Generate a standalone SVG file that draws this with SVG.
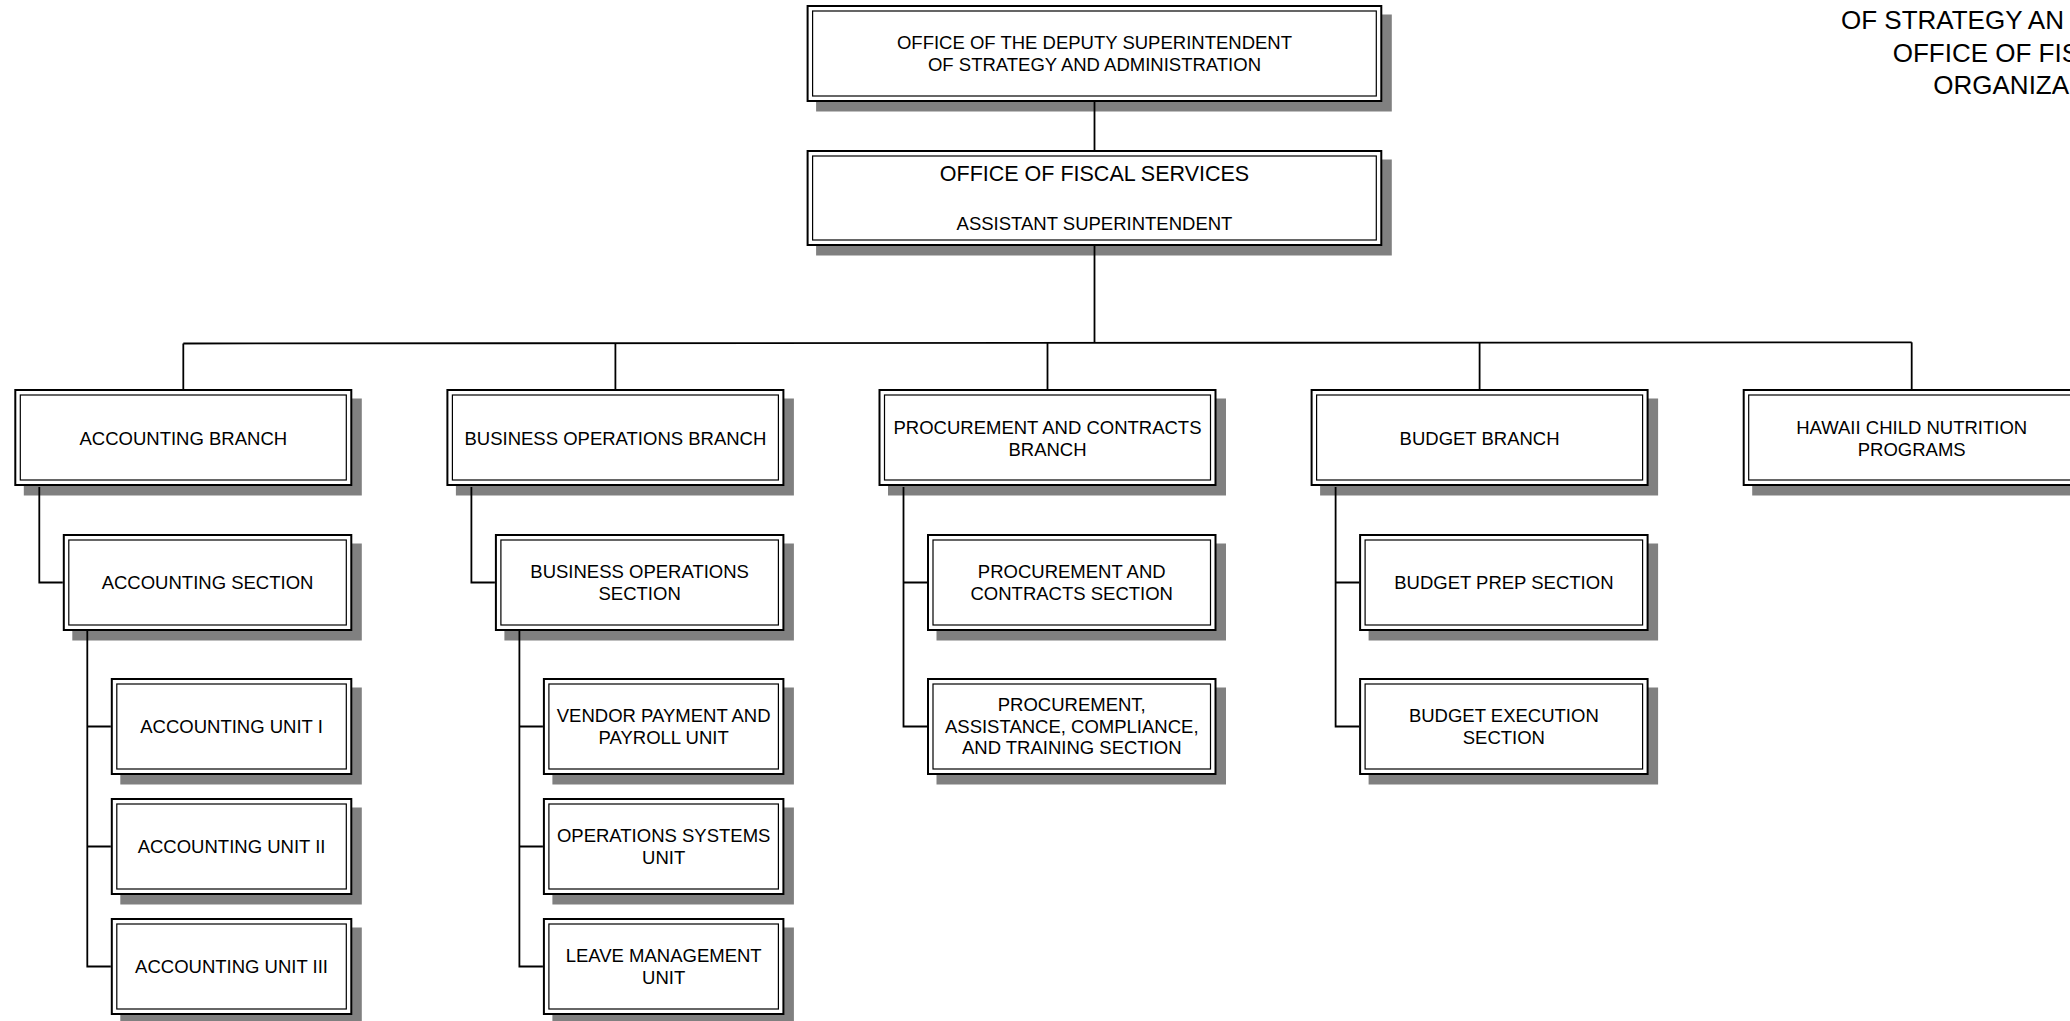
<svg xmlns="http://www.w3.org/2000/svg" width="2070" height="1021" viewBox="0 0 2070 1021">
<style>
.sh{fill:#808080}
.o{fill:#fff;stroke:#000;stroke-width:2}
.i{fill:none;stroke:#000;stroke-width:1.2}
.t{font-family:"Liberation Sans",Arial,sans-serif;font-size:18.5px;text-anchor:middle;fill:#000}
.tt{font-family:"Liberation Sans",Arial,sans-serif;font-size:26px;fill:#000}
.c{fill:none;stroke:#000;stroke-width:1.8}
</style>
<rect width="2070" height="1021" fill="#fff"/>
<g id="title">
<text class="tt" x="1841" y="29.3">OF STRATEGY AN</text>
<text class="tt" x="1892.7" y="61.7">OFFICE OF FIS</text>
<text class="tt" x="1933.3" y="94">ORGANIZA</text>
</g>

<g id="deputy">
<rect class="sh" x="816.1" y="14.5" width="575.7" height="97"/>
<rect class="o" x="807.6" y="6" width="573.7" height="95"/>
<rect class="i" x="812.6" y="11" width="563.7" height="85"/>
<text class="t" x="1094.5" y="48.5">OFFICE OF THE DEPUTY SUPERINTENDENT</text>
<text class="t" x="1094.5" y="71">OF STRATEGY AND ADMINISTRATION</text>
</g>
<g id="fiscal">
<rect class="sh" x="816.1" y="159.5" width="575.7" height="96"/>
<rect class="o" x="807.6" y="151" width="573.7" height="94"/>
<rect class="i" x="812.6" y="156" width="563.7" height="84"/>
<text class="t" x="1094.5" y="180.7" style="font-size:21.5px">OFFICE OF FISCAL SERVICES</text>
<text class="t" x="1094.5" y="229.6">ASSISTANT SUPERINTENDENT</text>
</g>

<!-- Accounting column L=14.3 -->
<g id="accounting-branch">
<rect class="sh" x="23.8" y="398.5" width="338" height="97"/>
<rect class="o" x="15.3" y="390" width="336" height="95"/>
<rect class="i" x="20.3" y="395" width="326" height="85"/>
<text class="t" x="183.3" y="444.6">ACCOUNTING BRANCH</text>
</g>
<g id="accounting-section">
<rect class="sh" x="72.3" y="543.5" width="289.5" height="97"/>
<rect class="o" x="63.8" y="535" width="287.5" height="95"/>
<rect class="i" x="68.8" y="540" width="277.5" height="85"/>
<text class="t" x="207.55" y="589.1">ACCOUNTING SECTION</text>
</g>
<g id="accounting-unit-1">
<rect class="sh" x="120.3" y="687.5" width="241.5" height="97"/>
<rect class="o" x="111.8" y="679" width="239.5" height="95"/>
<rect class="i" x="116.8" y="684" width="229.5" height="85"/>
<text class="t" x="231.55" y="733.1">ACCOUNTING UNIT I</text>
</g>
<g id="accounting-unit-2">
<rect class="sh" x="120.3" y="807.5" width="241.5" height="97"/>
<rect class="o" x="111.8" y="799" width="239.5" height="95"/>
<rect class="i" x="116.8" y="804" width="229.5" height="85"/>
<text class="t" x="231.55" y="853.1">ACCOUNTING UNIT II</text>
</g>
<g id="accounting-unit-3">
<rect class="sh" x="120.3" y="927.5" width="241.5" height="97"/>
<rect class="o" x="111.8" y="919" width="239.5" height="95"/>
<rect class="i" x="116.8" y="924" width="229.5" height="85"/>
<text class="t" x="231.55" y="973.1">ACCOUNTING UNIT III</text>
</g>

<!-- Business operations column L=446.4 -->
<g id="business-operations-branch">
<rect class="sh" x="455.9" y="398.5" width="338" height="97"/>
<rect class="o" x="447.4" y="390" width="336" height="95"/>
<rect class="i" x="452.4" y="395" width="326" height="85"/>
<text class="t" x="615.4" y="444.6">BUSINESS OPERATIONS BRANCH</text>
</g>
<g id="business-operations-section">
<rect class="sh" x="504.4" y="543.5" width="289.5" height="97"/>
<rect class="o" x="495.9" y="535" width="287.5" height="95"/>
<rect class="i" x="500.9" y="540" width="277.5" height="85"/>
<text class="t" x="639.65" y="578"><tspan x="639.65">BUSINESS OPERATIONS</tspan><tspan x="639.65" dy="22.3">SECTION</tspan></text>
</g>
<g id="vendor-payment-unit">
<rect class="sh" x="552.4" y="687.5" width="241.5" height="97"/>
<rect class="o" x="543.9" y="679" width="239.5" height="95"/>
<rect class="i" x="548.9" y="684" width="229.5" height="85"/>
<text class="t" x="663.65" y="722"><tspan x="663.65">VENDOR PAYMENT AND</tspan><tspan x="663.65" dy="22.3">PAYROLL UNIT</tspan></text>
</g>
<g id="operations-systems-unit">
<rect class="sh" x="552.4" y="807.5" width="241.5" height="97"/>
<rect class="o" x="543.9" y="799" width="239.5" height="95"/>
<rect class="i" x="548.9" y="804" width="229.5" height="85"/>
<text class="t" x="663.65" y="842"><tspan x="663.65">OPERATIONS SYSTEMS</tspan><tspan x="663.65" dy="22.3">UNIT</tspan></text>
</g>
<g id="leave-management-unit">
<rect class="sh" x="552.4" y="927.5" width="241.5" height="97"/>
<rect class="o" x="543.9" y="919" width="239.5" height="95"/>
<rect class="i" x="548.9" y="924" width="229.5" height="85"/>
<text class="t" x="663.65" y="962"><tspan x="663.65">LEAVE MANAGEMENT</tspan><tspan x="663.65" dy="22.3">UNIT</tspan></text>
</g>

<!-- Procurement column L=878.5 -->
<g id="procurement-branch">
<rect class="sh" x="888" y="398.5" width="338" height="97"/>
<rect class="o" x="879.5" y="390" width="336" height="95"/>
<rect class="i" x="884.5" y="395" width="326" height="85"/>
<text class="t" x="1047.5" y="433.5"><tspan x="1047.5">PROCUREMENT AND CONTRACTS</tspan><tspan x="1047.5" dy="22.3">BRANCH</tspan></text>
</g>
<g id="procurement-contracts-section">
<rect class="sh" x="936.5" y="543.5" width="289.5" height="97"/>
<rect class="o" x="928" y="535" width="287.5" height="95"/>
<rect class="i" x="933" y="540" width="277.5" height="85"/>
<text class="t" x="1071.75" y="578"><tspan x="1071.75">PROCUREMENT AND</tspan><tspan x="1071.75" dy="22.3">CONTRACTS SECTION</tspan></text>
</g>
<g id="procurement-assistance-section">
<rect class="sh" x="936.5" y="687.5" width="289.5" height="97"/>
<rect class="o" x="928" y="679" width="287.5" height="95"/>
<rect class="i" x="933" y="684" width="277.5" height="85"/>
<text class="t" x="1071.75" y="710.8"><tspan x="1071.75">PROCUREMENT,</tspan><tspan x="1071.75" dy="21.8">ASSISTANCE, COMPLIANCE,</tspan><tspan x="1071.75" dy="21.8">AND TRAINING SECTION</tspan></text>
</g>

<!-- Budget column L=1310.6 -->
<g id="budget-branch">
<rect class="sh" x="1320.1" y="398.5" width="338" height="97"/>
<rect class="o" x="1311.6" y="390" width="336" height="95"/>
<rect class="i" x="1316.6" y="395" width="326" height="85"/>
<text class="t" x="1479.6" y="444.6">BUDGET BRANCH</text>
</g>
<g id="budget-prep-section">
<rect class="sh" x="1368.6" y="543.5" width="289.5" height="97"/>
<rect class="o" x="1360.1" y="535" width="287.5" height="95"/>
<rect class="i" x="1365.1" y="540" width="277.5" height="85"/>
<text class="t" x="1503.85" y="589.1">BUDGET PREP SECTION</text>
</g>
<g id="budget-execution-section">
<rect class="sh" x="1368.6" y="687.5" width="289.5" height="97"/>
<rect class="o" x="1360.1" y="679" width="287.5" height="95"/>
<rect class="i" x="1365.1" y="684" width="277.5" height="85"/>
<text class="t" x="1503.85" y="722"><tspan x="1503.85">BUDGET EXECUTION</tspan><tspan x="1503.85" dy="22.3">SECTION</tspan></text>
</g>

<!-- HCNP L=1742.7 -->
<g id="hawaii-child-nutrition">
<rect class="sh" x="1752.2" y="398.5" width="338" height="97"/>
<rect class="o" x="1743.7" y="390" width="336" height="95"/>
<rect class="i" x="1748.7" y="395" width="326" height="85"/>
<text class="t" x="1911.7" y="433.5"><tspan x="1911.7">HAWAII CHILD NUTRITION</tspan><tspan x="1911.7" dy="22.3">PROGRAMS</tspan></text>
</g>

<g id="connectors" class="c">
<path d="M1094.5 102V150"/>
<path d="M1094.5 246V342.9"/>
<path d="M183.3 343.5L1911.7 342.3"/>
<path d="M183.3 343.5V389"/>
<path d="M615.4 343.2V389"/>
<path d="M1047.5 342.9V389"/>
<path d="M1479.6 342.6V389"/>
<path d="M1911.7 342.3V389"/>
<path d="M39.3 487V582.5H62.8"/>
<path d="M87.3 631V966.5H110.8M87.3 726.5H110.8M87.3 846.5H110.8"/>
<path d="M471.4 487V582.5H494.9"/>
<path d="M519.4 631V966.5H542.9M519.4 726.5H542.9M519.4 846.5H542.9"/>
<path d="M903.5 487V726.5H927M903.5 582.5H927"/>
<path d="M1335.6 487V726.5H1359.1M1335.6 582.5H1359.1"/>
</g>
</svg>
